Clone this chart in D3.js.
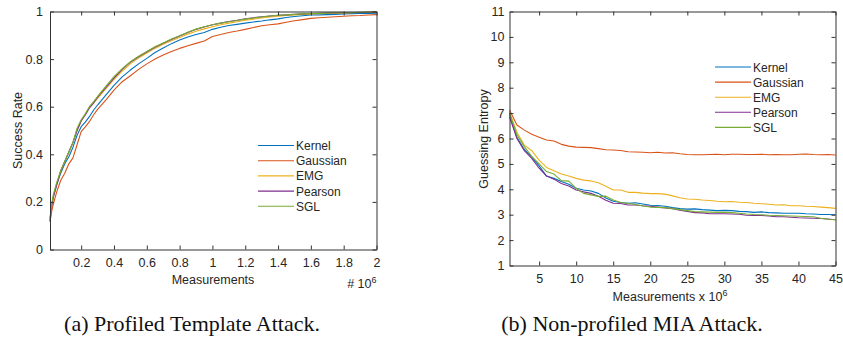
<!DOCTYPE html>
<html>
<head>
<meta charset="utf-8">
<script src="https://cdn.jsdelivr.net/npm/d3@7"></script>
<style>
  html, body { margin: 0; padding: 0; background: #fff; }
  svg { display: block; }
  .tick text { font-family: "Liberation Sans", Arial, sans-serif; }
</style>
</head>
<body>
<svg id="fig" width="843" height="347"></svg>
<script>
// ---- Panel (a): success rate of the profiled template attack ----
const seriesNames = ["Kernel", "Gaussian", "EMG", "Pearson", "SGL"];
const seriesColors = ["#0072BD", "#D95319", "#EDB120", "#7E2F8E", "#77AC30"];

// measurements (x 10^6)
const measA = [0.01, 0.02, 0.03, 0.05, 0.075, 0.1, 0.125, 0.15, 0.175, 0.2, 0.225, 0.25, 0.275,
  0.3, 0.35, 0.4, 0.45, 0.5, 0.55, 0.6, 0.65, 0.7, 0.75, 0.8, 0.85, 0.9, 0.95, 1.0,
  1.05, 1.1, 1.15, 1.2, 1.25, 1.3, 1.35, 1.4, 1.45, 1.5, 1.55, 1.6, 1.65, 1.7, 1.75,
  1.8, 1.85, 1.9, 1.95, 2.0];

const srKernel = [0.13, 0.18, 0.22, 0.27, 0.32, 0.36, 0.39, 0.43, 0.48, 0.516, 0.535, 0.558, 0.585,
  0.607, 0.649, 0.69, 0.725, 0.754, 0.78, 0.803, 0.828, 0.847, 0.865, 0.88, 0.893, 0.903, 0.912, 0.925,
  0.934, 0.941, 0.946, 0.951, 0.956, 0.96, 0.965, 0.969, 0.975, 0.979, 0.982, 0.985, 0.986, 0.987, 0.988,
  0.99, 0.991, 0.992, 0.992, 0.993];
const srGaussian = [0.115, 0.16, 0.19, 0.24, 0.29, 0.32, 0.36, 0.385, 0.44, 0.495, 0.515, 0.537, 0.565,
  0.589, 0.628, 0.67, 0.705, 0.73, 0.757, 0.78, 0.8, 0.817, 0.832, 0.845, 0.856, 0.866, 0.876, 0.895,
  0.903, 0.912, 0.918, 0.925, 0.933, 0.94, 0.944, 0.948, 0.955, 0.961, 0.966, 0.971, 0.974, 0.976, 0.978,
  0.98, 0.982, 0.983, 0.985, 0.987];
const srEMG = [0.12, 0.18, 0.22, 0.27, 0.33, 0.37, 0.41, 0.45, 0.5, 0.54, 0.57, 0.595, 0.615,
  0.635, 0.675, 0.715, 0.75, 0.78, 0.805, 0.826, 0.845, 0.862, 0.877, 0.891, 0.905, 0.917, 0.927, 0.936,
  0.944, 0.951, 0.957, 0.963, 0.968, 0.973, 0.977, 0.98, 0.983, 0.986, 0.988, 0.99, 0.991, 0.992, 0.993,
  0.994, 0.995, 0.996, 0.997, 0.998];
const srPearson = [0.12, 0.18, 0.22, 0.27, 0.33, 0.37, 0.41, 0.45, 0.5, 0.54, 0.565, 0.595, 0.615,
  0.64, 0.68, 0.72, 0.757, 0.787, 0.81, 0.83, 0.85, 0.867, 0.882, 0.897, 0.912, 0.925, 0.935, 0.944,
  0.951, 0.958, 0.963, 0.969, 0.974, 0.978, 0.981, 0.984, 0.986, 0.988, 0.99, 0.991, 0.992, 0.993, 0.994,
  0.995, 0.996, 0.996, 0.997, 0.998];
const srSGL = [0.13, 0.19, 0.23, 0.28, 0.33, 0.37, 0.41, 0.45, 0.51, 0.545, 0.57, 0.6, 0.62,
  0.643, 0.685, 0.726, 0.76, 0.789, 0.812, 0.832, 0.852, 0.868, 0.884, 0.898, 0.913, 0.926, 0.936, 0.944,
  0.951, 0.957, 0.962, 0.968, 0.973, 0.977, 0.981, 0.984, 0.986, 0.988, 0.99, 0.991, 0.992, 0.993, 0.994,
  0.995, 0.996, 0.997, 0.997, 0.998];

const ticksAx = [0.2, 0.4, 0.6, 0.8, 1, 1.2, 1.4, 1.6, 1.8, 2];
const ticksAy = [0, 0.2, 0.4, 0.6, 0.8, 1];

// ---- Panel (b): guessing entropy of the non-profiled MIA attack ----
const measB = d3.range(1, 46); // 1 .. 45 (x 10^6)

const geKernel = [6.95, 6.05, 5.57, 5.28, 4.92, 4.52, 4.43, 4.31, 4.2, 4.04, 3.97, 3.93, 3.84, 3.66, 3.53,
  3.48, 3.45, 3.47, 3.42, 3.37, 3.36, 3.33, 3.28, 3.24, 3.22, 3.23, 3.2, 3.18, 3.16, 3.17, 3.16, 3.13,
  3.12, 3.09, 3.11, 3.08, 3.07, 3.06, 3.06, 3.06, 3.04, 3.03, 3.01, 3.01, 3.0];
const geGaussian = [7.12, 6.53, 6.33, 6.17, 6.05, 5.94, 5.9, 5.77, 5.7, 5.66, 5.65, 5.64, 5.6, 5.56, 5.55,
  5.53, 5.48, 5.47, 5.46, 5.44, 5.46, 5.43, 5.44, 5.4, 5.37, 5.36, 5.36, 5.37, 5.38, 5.36, 5.38, 5.38,
  5.37, 5.37, 5.38, 5.36, 5.37, 5.36, 5.36, 5.38, 5.39, 5.37, 5.36, 5.37, 5.35];
const geEMG = [7.05, 6.25, 5.74, 5.52, 5.15, 4.86, 4.73, 4.6, 4.52, 4.43, 4.36, 4.33, 4.26, 4.12, 3.97,
  3.97, 3.88, 3.88, 3.85, 3.83, 3.83, 3.81, 3.74, 3.67, 3.62, 3.61, 3.58, 3.56, 3.53, 3.51, 3.52, 3.49,
  3.48, 3.45, 3.43, 3.41, 3.38, 3.39, 3.35, 3.35, 3.33, 3.32, 3.3, 3.28, 3.25];
const gePearson = [6.85, 6.0, 5.52, 5.22, 4.83, 4.52, 4.4, 4.23, 4.13, 3.97, 3.9, 3.84, 3.73, 3.57, 3.45,
  3.44, 3.38, 3.38, 3.35, 3.33, 3.3, 3.27, 3.24, 3.18, 3.13, 3.08, 3.07, 3.04, 3.04, 3.04, 3.03, 3.02,
  2.98, 2.97, 2.97, 2.95, 2.92, 2.92, 2.9, 2.88, 2.87, 2.86, 2.85, 2.83, 2.8];
const geSGL = [7.0, 6.15, 5.68, 5.3, 5.0, 4.7, 4.6, 4.34, 4.32, 4.04, 3.84, 3.78, 3.72, 3.73, 3.58,
  3.48, 3.45, 3.4, 3.34, 3.3, 3.29, 3.28, 3.24, 3.2, 3.16, 3.12, 3.11, 3.1, 3.09, 3.09, 3.08, 3.06,
  3.03, 3.01, 3.0, 2.98, 2.97, 2.96, 2.95, 2.94, 2.93, 2.92, 2.86, 2.82, 2.8];

const ticksBx = [5, 10, 15, 20, 25, 30, 35, 40, 45];
const ticksBy = [1, 2, 3, 4, 5, 6, 7, 8, 9, 10, 11];

const captions = ["(a) Profiled Template Attack.", "(b) Non-profiled MIA Attack."];

// ---- drawing ----
const svg = d3.select("#fig");
const FONT = '"Liberation Sans", Arial, Helvetica, sans-serif';
const AXIS_COLOR = "#333333";
const TEXT_COLOR = "#262626";
const TICK_LEN = 4;

function panel(cfg) {
  const g = svg.append("g");
  const x = d3.scaleLinear().domain(cfg.xDomain).range([cfg.left, cfg.right]);
  const y = d3.scaleLinear().domain(cfg.yDomain).range([cfg.bottom, cfg.top]);

  // data lines
  const line = d3.line().x(d => x(d[0])).y(d => y(d[1]));
  cfg.series.forEach((vals, i) => {
    g.append("path")
      .datum(cfg.xs.map((v, k) => [v, vals[k]]))
      .attr("fill", "none")
      .attr("stroke", seriesColors[i])
      .attr("stroke-width", 1.1)
      .attr("stroke-linejoin", "round")
      .attr("d", line);
  });

  // axes with inward ticks, mirrored on the opposite sides
  const styleAxis = sel => {
    sel.select(".domain").attr("stroke", AXIS_COLOR);
    sel.selectAll(".tick line").attr("stroke", AXIS_COLOR);
    sel.selectAll(".tick text")
      .attr("fill", TEXT_COLOR)
      .style("font-family", FONT)
      .style("font-size", "12.5px");
  };
  g.append("g").attr("transform", `translate(0,${cfg.bottom})`)
    .call(d3.axisBottom(x).tickValues(cfg.xTicks).tickFormat(d3.format("~g"))
      .tickSizeInner(-TICK_LEN).tickSizeOuter(0).tickPadding(9))
    .call(styleAxis);
  g.append("g").attr("transform", `translate(0,${cfg.top})`)
    .call(d3.axisTop(x).tickValues(cfg.xTicks).tickFormat("")
      .tickSizeInner(-TICK_LEN).tickSizeOuter(0))
    .call(styleAxis);
  g.append("g").attr("transform", `translate(${cfg.left},0)`)
    .call(d3.axisLeft(y).tickValues(cfg.yTicks).tickFormat(d3.format("~g"))
      .tickSizeInner(-TICK_LEN).tickSizeOuter(0).tickPadding(cfg.yPad))
    .call(styleAxis);
  g.append("g").attr("transform", `translate(${cfg.right},0)`)
    .call(d3.axisRight(y).tickValues(cfg.yTicks).tickFormat("")
      .tickSizeInner(-TICK_LEN).tickSizeOuter(0))
    .call(styleAxis);

  // axis labels
  g.append("text")
    .attr("transform", `translate(${cfg.yLabelX},${cfg.yLabelY}) rotate(-90)`)
    .attr("text-anchor", "middle")
    .attr("fill", TEXT_COLOR)
    .style("font-family", FONT).style("font-size", "12.5px")
    .text(cfg.yLabel);

  const xl = g.append("text")
    .attr("x", cfg.xLabelX).attr("y", cfg.xLabelY)
    .attr("text-anchor", "middle")
    .attr("fill", TEXT_COLOR)
    .style("font-family", FONT).style("font-size", "12.5px");
  xl.append("tspan").text(cfg.xLabel);
  if (cfg.xLabelExp) {
    xl.append("tspan").attr("dy", -5).style("font-size", "9px").text(cfg.xLabelExp);
  }
  if (cfg.multiplier) {
    const m = g.append("text")
      .attr("x", cfg.right).attr("y", cfg.multY)
      .attr("text-anchor", "end")
      .attr("fill", TEXT_COLOR)
      .style("font-family", FONT).style("font-size", "12.5px");
    m.append("tspan").text(cfg.multiplier);
    m.append("tspan").attr("dy", -5).style("font-size", "9px").text("6");
  }

  // legend
  const lg = g.append("g").attr("transform", `translate(${cfg.legendX},${cfg.legendY})`);
  seriesNames.forEach((name, i) => {
    const row = lg.append("g").attr("transform", `translate(0,${i * cfg.legendStep})`);
    row.append("line").attr("x1", 0).attr("x2", 36).attr("y1", 0).attr("y2", 0)
      .attr("stroke", seriesColors[i]).attr("stroke-width", 1.1);
    row.append("text").attr("x", 38).attr("y", 4.5)
      .attr("fill", TEXT_COLOR)
      .style("font-family", FONT).style("font-size", "12px")
      .text(name);
  });

  // caption
  svg.append("text")
    .attr("x", cfg.captionX).attr("y", 331)
    .attr("text-anchor", "middle")
    .attr("fill", "#111")
    .style("font-family", '"Liberation Serif", "Times New Roman", serif')
    .style("font-size", "22px")
    .text(cfg.caption);
}

panel({
  xs: measA,
  series: [srKernel, srGaussian, srEMG, srPearson, srSGL],
  xDomain: [0.01, 2], yDomain: [0, 1],
  left: 50, right: 376.5, top: 11.5, bottom: 249.5,
  xTicks: ticksAx, yTicks: ticksAy, yPad: 7,
  yLabel: "Success Rate", yLabelX: 22, yLabelY: 130.5,
  xLabel: "Measurements", xLabelX: 213, xLabelY: 284,
  multiplier: "# 10", multY: 288,
  legendX: 258, legendY: 145.5, legendStep: 15.2,
  caption: captions[0], captionX: 192
});

panel({
  xs: measB,
  series: [geKernel, geGaussian, geEMG, gePearson, geSGL],
  xDomain: [1, 45], yDomain: [1, 11],
  left: 509.5, right: 835.5, top: 11.5, bottom: 265.5,
  xTicks: ticksBx, yTicks: ticksBy, yPad: 5,
  yLabel: "Guessing Entropy", yLabelX: 487.5, yLabelY: 139,
  xLabel: "Measurements x 10", xLabelExp: "6", xLabelX: 670, xLabelY: 301,
  legendX: 715, legendY: 67, legendStep: 15.1,
  caption: captions[1], captionX: 632
});
</script>
</body>
</html>
